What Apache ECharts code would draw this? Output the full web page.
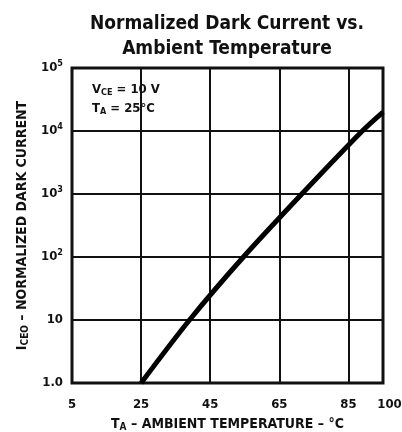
<!DOCTYPE html>
<html>
<head>
<meta charset="utf-8">
<script src="https://cdn.jsdelivr.net/npm/echarts@6/dist/echarts.min.js"></script>
<style>
html, body { margin: 0; padding: 0; background: #fff; }
#chart { width: 402px; height: 432px; }
</style>
</head>
<body>
<div id="chart"></div>
<script>
// x = ambient temperature (graph scale), y = normalized dark current
var tempTicks = [5, 25, 45, 65, 85, 95];
var tempLabels = ['5', '25', '45', '65', '85', '100'];
var currentTicks = [1, 10, 100, 1000, 10000, 100000];
var curveTemp = [25, 39, 54.6, 71.5, 89, 95];
var curveCurrent = [1, 10, 100, 1000, 10000, 20000];

var font = '"Liberation Sans Narrow", "DejaVu Sans Condensed", "Liberation Sans", sans-serif';

var curve = [];
for (var i = 0; i < curveTemp.length; i++) {
    curve.push([curveTemp[i], curveCurrent[i]]);
}

var chart = echarts.init(document.getElementById('chart'));

var option = {
    backgroundColor: '#fff',
    animation: false,
    title: {
        text: 'Normalized Dark Current vs.\nAmbient Temperature',
        left: 222,
        textAlign: 'center',
        top: 7,
        textStyle: {
            color: '#111',
            fontFamily: font,
            fontWeight: 'bold',
            fontSize: 19,
            lineHeight: 25
        }
    },
    grid: {
        left: 72,
        right: 19,
        top: 68,
        bottom: 49,
        outerBoundsMode: 'none',
        containLabel: false,
        show: true,
        borderColor: '#111',
        borderWidth: 3
    },
    xAxis: {
        type: 'value',
        min: 5,
        max: 95,
        interval: 20,
        name: 'T{sub|A} – AMBIENT TEMPERATURE – °C',
        nameLocation: 'middle',
        nameGap: 33,
        nameTextStyle: {
            color: '#111',
            fontFamily: font,
            fontWeight: 'bold',
            fontSize: 14,
            rich: {
                sub: { fontSize: 10, fontWeight: 'bold', fontFamily: font, padding: [6, 0, 0, 0] }
            }
        },
        axisLine: { show: false },
        axisTick: { show: false },
        axisLabel: {
            color: '#111',
            fontFamily: font,
            fontWeight: 'bold',
            fontSize: 13,
            margin: 15,
            showMaxLabel: true,
            formatter: function (v) {
                var idx = tempTicks.indexOf(v);
                if (idx < 0) return '';
                if (idx === tempTicks.length - 1) return '{end|' + tempLabels[idx] + '}';
                return tempLabels[idx];
            },
            rich: {
                end: { fontSize: 13, fontWeight: 'bold', fontFamily: font, color: '#111', padding: [0, 0, 0, 13] }
            }
        },
        splitLine: { show: true, lineStyle: { color: '#111', width: 2 } }
    },
    yAxis: {
        type: 'log',
        logBase: 10,
        min: 1,
        max: 100000,
        name: 'I{sub|CEO} – NORMALIZED DARK CURRENT',
        nameLocation: 'middle',
        nameRotate: 90,
        nameGap: 40,
        nameTextStyle: {
            color: '#111',
            fontFamily: font,
            fontWeight: 'bold',
            fontSize: 14,
            rich: {
                sub: { fontSize: 10, fontWeight: 'bold', fontFamily: font, padding: [6, 0, 0, 0] }
            }
        },
        axisLine: { show: false },
        axisTick: { show: false },
        axisLabel: {
            color: '#111',
            fontFamily: font,
            fontWeight: 'bold',
            fontSize: 13,
            margin: 9,
            formatter: function (v) {
                if (v === currentTicks[0]) return '1.0';
                if (v === currentTicks[1]) return '10';
                var p = Math.round(Math.log(v) / Math.LN10);
                return '10{sup|' + p + '}';
            },
            rich: {
                sup: { fontSize: 9, fontWeight: 'bold', fontFamily: font, color: '#111', padding: [0, 0, 8, 0] }
            }
        },
        splitLine: { show: true, lineStyle: { color: '#111', width: 2 } }
    },
    graphic: [{
        type: 'text',
        left: 92,
        top: 80,
        style: {
            text: 'V{sub|CE} = 10 V\nT{sub|A} = 25°C',
            fill: '#111',
            font: 'bold 13px ' + font,
            lineHeight: 19,
            rich: {
                sub: { fontSize: 9, fontWeight: 'bold', fontFamily: font, padding: [6, 0, 0, 0] }
            }
        }
    }],
    series: [{
        type: 'line',
        data: curve,
        smooth: 0.3,
        showSymbol: false,
        lineStyle: { color: '#000', width: 5 }
    }]
};

chart.setOption(option);
</script>
</body>
</html>
